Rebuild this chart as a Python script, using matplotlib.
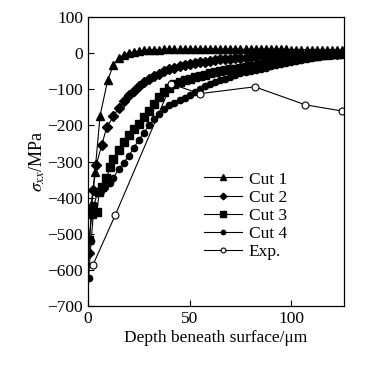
import matplotlib
matplotlib.use('Agg')
import matplotlib.pyplot as plt

plt.rcParams['font.family'] = ['Liberation Serif', 'DejaVu Serif']
plt.rcParams['mathtext.fontset'] = 'stix'

# shared depth grid (um) for the densely sampled part of the simulated curves
depth = [12.5, 15, 17.5, 20, 22.5, 25, 27.5, 30, 32.5, 35, 37.5, 40, 42.5, 45,
         47.5, 50, 52.5, 55, 57.5, 60, 62.5, 65, 67.5, 70, 72.5, 75, 77.5, 80,
         82.5, 85, 87.5, 90, 92.5, 95, 97.5, 100, 102.5, 105, 107.5, 110,
         112.5, 115, 117.5, 120, 122.5, 125]

# Cut 1
cut1_near_x = [0.5, 1.5, 3.4, 5.9, 9.7]
cut1_near_y = [-442, -420, -330, -173, -74]
cut1_y = [-32, -14, -4, 1, 4, 6, 8, 9, 10, 10, 11, 11, 11, 11, 11, 11, 11, 11,
          11, 11, 11, 11, 11, 11, 11, 11, 11, 11, 11, 11, 11, 11, 11, 11, 11,
          10, 10, 10, 10, 10, 10, 9, 9, 9, 8, 8]

# Cut 2
cut2_near_x = [0.5, 1.5, 2.5, 4, 6.7, 9.2]
cut2_near_y = [-553, -445, -380, -310, -255, -205]
cut2_y = [-175, -152, -133, -117, -104, -92, -81, -72, -64, -57, -50, -45, -40,
          -36, -33, -30, -27, -25, -23, -21, -19, -17, -16, -15, -14, -13, -12,
          -11, -10, -9, -8, -8, -7, -6, -6, -5, -5, -4, -4, -3, -3, -2, -2, -1,
          -1, 0]

# Cut 3
cut3_near_x = [0.3, 2, 4.3, 5.5, 7, 9, 11]
cut3_near_y = [-518, -445, -440, -385, -370, -345, -315]
cut3_y = [-292, -268, -246, -226, -210, -195, -178, -160, -140, -122, -107, -95,
          -86, -80, -75, -71, -67, -63, -59, -56, -53, -50, -47, -45, -43, -40,
          -38, -36, -34, -32, -29, -27, -25, -22, -20, -17, -15, -13, -11, -9,
          -8, -6, -5, -3, -2, -1]

# Cut 4
cut4_near_x = [0.3, 1.5, 3, 4.5, 6.5, 8.5, 10.8]
cut4_near_y = [-622, -520, -420, -388, -382, -372, -360]
cut4_y = [-345, -322, -303, -285, -262, -240, -220, -200, -183, -168, -155,
          -144, -137, -130, -123, -116, -107, -98, -91, -84, -79, -75, -70, -65,
          -60, -56, -53, -50, -46, -43, -40, -36, -33, -30, -27, -24, -21, -18,
          -15, -13, -11, -8, -6, -5, -3, -2]

# measured
exp_x = [2.3, 13.5, 41, 55, 82, 107, 125]
exp_y = [-588, -447, -85, -112, -93, -143, -160]

fig = plt.figure(figsize=(3.7, 3.65), dpi=100)
ax = fig.add_axes([0.238, 0.162, 0.692, 0.791])

lw = 0.8
ax.plot(cut1_near_x + depth, cut1_near_y + cut1_y, color='black', lw=lw,
        marker='^', ms=6, label='Cut 1')
ax.plot(cut2_near_x + depth, cut2_near_y + cut2_y, color='black', lw=lw,
        marker='D', ms=4.8, label='Cut 2')
ax.plot(cut3_near_x + depth, cut3_near_y + cut3_y, color='black', lw=lw,
        marker='s', ms=5.5, label='Cut 3')
ax.plot(cut4_near_x + depth, cut4_near_y + cut4_y, color='black', lw=lw,
        marker='o', ms=4.5, label='Cut 4')
ax.plot(exp_x, exp_y, color='black', lw=lw, marker='o', ms=5,
        markerfacecolor='white', markeredgewidth=0.8, label='Exp.')

ax.set_xlim(0, 126)
ax.set_ylim(-700, 100)
ax.set_xticks([0, 50, 100])
ax.set_yticks(range(-700, 101, 100))
ax.tick_params(direction='in', length=4, labelsize=12.5, width=0.8)
for s in ax.spines.values():
    s.set_linewidth(0.9)

ax.set_xlabel('Depth beneath surface/\u03bcm', fontsize=12.5, labelpad=2)
ax.set_ylabel(r'$\sigma_{xx}$/MPa', fontsize=13, labelpad=0)

leg = ax.legend(loc='upper left', bbox_to_anchor=(0.39, 0.52), frameon=False,
                fontsize=12.5, handlelength=2.2, handletextpad=0.4,
                labelspacing=0.12, markerscale=0.7)

fig.savefig('out.png', dpi=100)
